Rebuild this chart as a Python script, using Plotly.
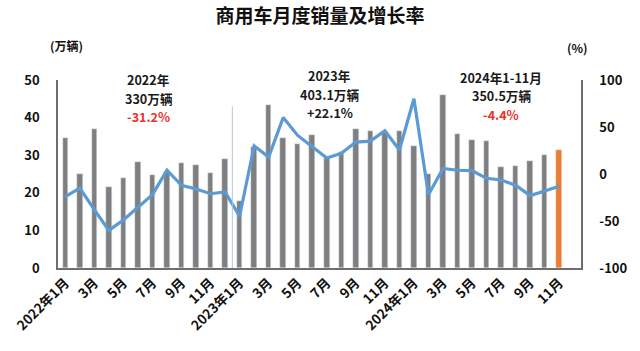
import plotly.graph_objects as go

months = ["2022年1月", "2月", "3月", "4月", "5月", "6月", "7月", "8月", "9月", "10月", "11月", "12月",
          "2023年1月", "2月", "3月", "4月", "5月", "6月", "7月", "8月", "9月", "10月", "11月", "12月",
          "2024年1月", "2月", "3月", "4月", "5月", "6月", "7月", "8月", "9月", "10月", "11月"]

sales = [34.5, 24.9, 37.0, 21.6, 24.0, 28.2, 24.7, 25.5, 27.9, 27.4, 25.4, 29.1,
         17.9, 32.3, 43.4, 34.7, 32.9, 35.5, 29.3, 30.9, 37.0, 36.4, 36.2, 36.5,
         32.4, 25.1, 45.9, 35.7, 34.1, 33.7, 26.9, 27.1, 28.5, 30.0, 31.5]

growth = [-24, -15, -38, -60, -49, -36, -22, 4, -12, -16, -21, -19,
          -45, 30, 18, 60, 41, 29, 17, 22, 34, 35, 46, 25.5,
          80, -22, 6, 4, 3.5, -4.6, -6.4, -12, -23, -18, -13]

left_ticks = [0, 10, 20, 30, 40, 50]
right_ticks = [-100, -50, 0, 50, 100]

FONT = "Noto Sans CJK SC"
x = list(range(len(months)))
bar_colors = ["#7f7f7f"] * (len(months) - 1) + ["#ed7d31"]

fig = go.Figure()
fig.add_trace(go.Bar(x=x, y=sales, marker_color=bar_colors, width=0.38, yaxis="y"))
fig.add_trace(go.Scatter(x=x, y=growth, mode="lines", line=dict(color="#5b9bd5", width=3.2), yaxis="y2"))

tick_idx = list(range(0, len(months), 2))
fig.update_layout(
    width=640, height=351,
    margin=dict(l=55, r=58, t=80, b=83),
    paper_bgcolor="white", plot_bgcolor="white",
    showlegend=False,
    font=dict(family=FONT, color="#1a1a1a"),
    title=dict(text="<b>商用车月度销量及增长率</b>", x=0.5, xanchor="center", y=0.952, yanchor="middle",
               font=dict(size=19, family=FONT, color="#111")),
    xaxis=dict(range=[-0.5, 35.5], tickvals=tick_idx, ticktext=["<b>%s</b>" % months[i] for i in tick_idx],
               tickangle=-45, tickfont=dict(size=13.5, family=FONT, color="#111"),
               showline=True, linecolor="#6e6e6e", linewidth=1.5, showgrid=False, zeroline=False,
               ticks="", fixedrange=True),
    yaxis=dict(range=[0, 50], tickvals=left_ticks, ticktext=["<b>%d</b>" % v for v in left_ticks],
               tickfont=dict(size=13, family=FONT, color="#111"),
               showline=True, linecolor="#6e6e6e", linewidth=1.5, showgrid=False, zeroline=False,
               ticks="outside", ticklen=14, tickcolor="rgba(0,0,0,0)"),
    yaxis2=dict(range=[-100, 100], tickvals=right_ticks, ticktext=["<b>%d</b>" % v for v in right_ticks],
                overlaying="y", side="right",
                tickfont=dict(size=13, family=FONT, color="#111"),
                showline=True, linecolor="#6e6e6e", linewidth=1.5, showgrid=False, zeroline=False,
                ticks="outside", ticklen=14, tickcolor="rgba(0,0,0,0)"),
    bargap=0,
)

# separator between 2022 and 2023
fig.add_shape(type="line", x0=11.5, x1=11.5, y0=0, y1=43, xref="x", yref="y",
              line=dict(color="#b8c6d6", width=1))

RED = "#e8322d"

def ann(text, xpos, ypix, color="#1a1a1a", size=12.6):
    fig.add_annotation(text="<b>%s</b>" % text, x=xpos, xref="x", y=(268 - ypix) / 188, yref="paper",
                       showarrow=False, xanchor="center", yanchor="middle",
                       font=dict(size=size, family=FONT, color=color))

ann("2022年", 5.75, 79.5)
ann("330万辆", 5.75, 98)
ann("-31.2%", 5.75, 116.5, color=RED)
ann("2023年", 18.2, 75.5)
ann("403.1万辆", 18.2, 94)
ann("+22.1%", 18.2, 112.5)
ann("2024年1-11月", 30.0, 77)
ann("350.5万辆", 30.0, 95.5)
ann("-4.4%", 30.0, 114, color=RED)

fig.add_annotation(text="<b>(万辆)</b>", x=(45 - 55) / 527, xref="paper", y=(268 - 46) / 188, yref="paper",
                   showarrow=False, xanchor="left", yanchor="middle", font=dict(size=12, family=FONT, color="#111"))
fig.add_annotation(text="<b>(%)</b>", x=(566 - 55) / 527, xref="paper", y=(268 - 48) / 188, yref="paper",
                   showarrow=False, xanchor="left", yanchor="middle", font=dict(size=12, family=FONT, color="#111"))

fig.write_html("out.html")
